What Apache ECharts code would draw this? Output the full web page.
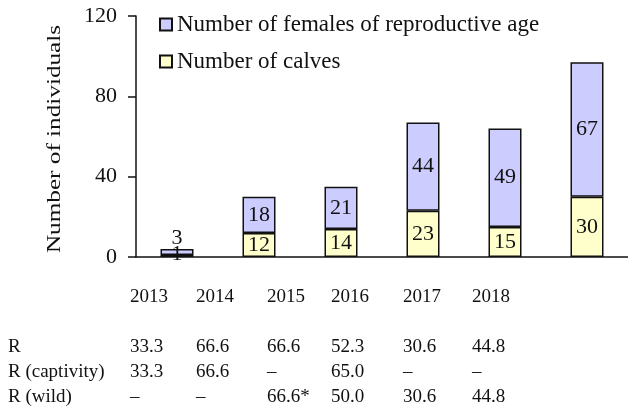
<!DOCTYPE html>
<html>
<head>
<meta charset="utf-8">
<script src="https://cdn.jsdelivr.net/npm/echarts@6/dist/echarts.min.js"></script>
<style>
  html, body { margin: 0; padding: 0; background: #fff; }
  #chart { width: 628px; height: 420px; }
</style>
</head>
<body>
<div id="chart"></div>
<script>
var years = ['2013', '2014', '2015', '2016', '2017', '2018'];
var calves = [1, 12, 14, 23, 15, 30];
var females = [3, 18, 21, 44, 49, 67];
var rowNames = ['R', 'R (captivity)', 'R (wild)'];
var rAll = ['33.3', '66.6', '66.6', '52.3', '30.6', '44.8'];
var rCaptivity = ['33.3', '66.6', '–', '65.0', '–', '–'];
var rWild = ['–', '–', '66.6*', '50.0', '30.6', '44.8'];

var FONT = '"Liberation Serif", "Times New Roman", serif';
var chart = echarts.init(document.getElementById('chart'));

// table below the plot
var colX = [130, 196, 267, 331, 403, 472];
var rowY = [347, 372, 397];
var graphics = [];
function txt(x, y, s) {
  graphics.push({
    type: 'text', x: x, y: y,
    style: { text: s, font: '19px ' + FONT, fill: '#111', textAlign: 'left', textVerticalAlign: 'middle' }
  });
}
years.forEach(function(y, i) { txt(colX[i], 297, y); });
[rAll, rCaptivity, rWild].forEach(function(row, r) {
  txt(8, rowY[r], rowNames[r]);
  row.forEach(function(v, i) { txt(colX[i], rowY[r], v); });
});
// y axis title
graphics.push({
  type: 'text', x: 55, y: 139, rotation: Math.PI / 2, scaleX: 1.4,
  style: { text: 'Number of individuals', font: '18px ' + FONT, fill: '#111', textAlign: 'center', textVerticalAlign: 'middle' }
});

var labelStyle = { show: true, position: 'inside', fontFamily: FONT, fontSize: 22, color: '#111' };

option = {
  animation: false,
  textStyle: { fontFamily: FONT },
  legend: {
    orient: 'vertical',
    left: 154, top: 8,
    itemWidth: 12, itemHeight: 12,
    itemGap: 14,
    icon: 'rect',
    textStyle: { fontFamily: FONT, fontSize: 23, color: '#111' },
    data: ['Number of females of reproductive age', 'Number of calves']
  },
  grid: { left: 136, top: 16, width: 494, height: 241 },
  xAxis: {
    type: 'category',
    data: years,
    axisLine: { lineStyle: { color: '#111', width: 1.5 } },
    axisTick: { show: false },
    axisLabel: { show: false }
  },
  yAxis: {
    type: 'value',
    min: 0, max: 120, interval: 40,
    splitLine: { show: false },
    axisLine: { show: true, lineStyle: { color: '#111', width: 1.5 } },
    axisTick: { show: true, length: 8, lineStyle: { color: '#111', width: 1.5 } },
    axisLabel: { margin: 19, fontFamily: FONT, fontSize: 22, color: '#111' }
  },
  series: [
    {
      name: 'Number of calves',
      type: 'bar', stack: 'n', barWidth: 33,
      itemStyle: { color: '#ffffcc', borderColor: '#111', borderWidth: 1.5 },
      label: labelStyle,
      data: calves.map(function(v, i) {
        return i === 0 ? { value: v, label: { offset: [0, -2] } } : v;
      })
    },
    {
      name: 'Number of females of reproductive age',
      type: 'bar', stack: 'n', barWidth: 33,
      itemStyle: { color: '#ccccff', borderColor: '#111', borderWidth: 1.5 },
      label: labelStyle,
      data: females.map(function(v, i) {
        return i === 0 ? { value: v, label: { position: 'top', distance: 0 } } : v;
      })
    }
  ],
  graphic: graphics
};
chart.setOption(option);
</script>
</body>
</html>
